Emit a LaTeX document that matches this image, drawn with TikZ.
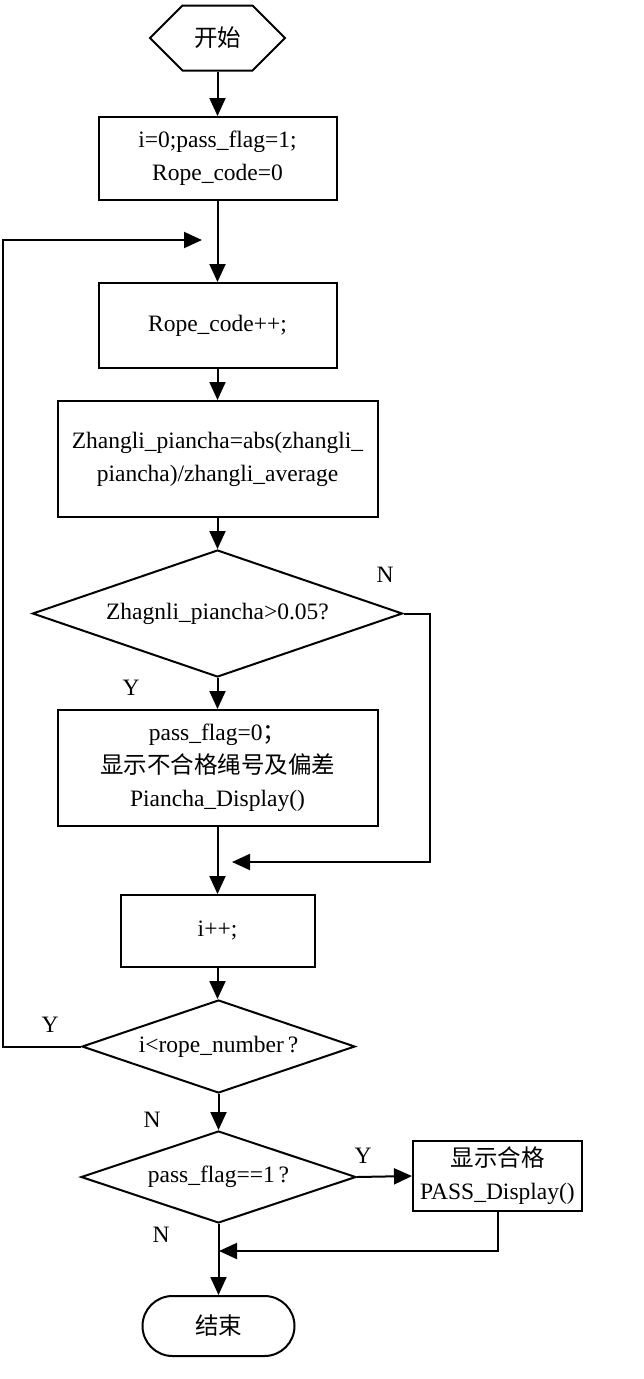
\documentclass[tikz,border=0pt]{standalone}
\usepackage{fontspec}
\setmainfont{Liberation Serif}
\newfontfamily\cjk{Noto Sans CJK SC}
\usepackage{tikz}
\usetikzlibrary{shapes.geometric, shapes.symbols, arrows.meta, positioning}

\begin{document}
\begin{tikzpicture}[
    x=1pt, y=-1pt,
    every node/.style={font=\fontsize{23.5}{33}\selectfont},
    block/.style={rectangle, draw, line width=2pt, align=center, inner sep=0pt},
    decision/.style={diamond, aspect=2.9, draw, line width=2pt, align=center, inner sep=0pt},
    hexa/.style={signal, signal to=west and east, signal pointer angle=90, draw, line width=2pt, minimum width=135pt, minimum height=65pt, inner sep=0pt},
    stopbox/.style={rectangle, rounded corners=30pt, draw, line width=2pt, minimum width=152pt, minimum height=60pt, inner sep=0pt},
    arrow/.style={-{Triangle[length=18pt, width=16pt]}, line width=2pt},
]
    \useasboundingbox (0,0) rectangle (644,1379);

    % Start and init
    \node[hexa] (start) at (217.5,38) {{\cjk 开始}};
    \node[block, minimum width=238pt, minimum height=83pt] (init) at (217.5,158.5) {i=0;pass\_flag=1;\\Rope\_code=0};

    % Loop body
    \node[block, minimum width=238pt, minimum height=85pt] (code) at (217.5,325.5) {Rope\_code++;};
    \node[block, minimum width=320pt, minimum height=116pt] (calc) at (217.5,459) {Zhangli\_piancha=abs(zhangli\_\\piancha)/zhangli\_average};
    \node[decision, minimum width=370pt, minimum height=127pt] (dev) at (217.5,613.5) {Zhagnli\_piancha>0.05?};
    \node[block, minimum width=320pt, minimum height=116pt] (fail) at (217.5,768) {pass\_flag=0{\cjk ；}\\{\cjk 显示不合格绳号及偏差}\\Piancha\_Display()};
    \node[block, minimum width=194pt, minimum height=72pt] (inc) at (217.5,931) {i++;};
    \node[decision, minimum width=273pt, minimum height=93pt] (check) at (218.5,1046.5) {i<rope\_number\,?};

    % Result
    \node[decision, minimum width=275pt, minimum height=92pt] (pass) at (218.5,1177) {pass\_flag==1\,?};
    \node[block, minimum width=169pt, minimum height=70pt] (ok) at (497.5,1176) {{\cjk 显示合格}\\PASS\_Display()};
    \node[stopbox] (stop) at (218.5,1326) {{\cjk 结束}};

    % Join points
    \coordinate (loop) at (202,240);
    \coordinate (join1) at (232,862);
    \coordinate (join2) at (219,1251);

    % Arrows
    \draw[arrow] (start) -- (init);
    \draw[arrow] (init) -- (code);
    \draw[arrow] (code) -- (calc);
    \draw[arrow] (calc) -- (dev);
    \draw[arrow] (dev) -- (fail);
    \draw[arrow] (fail.south) -- (inc.north);
    \draw[arrow] (dev.east) -- ++(26,0) |- (join1);
    \draw[arrow] (inc.south) -- (inc.south |- check.north);
    \draw[arrow] (check.west) -- ++(-78,0) |- (loop);
    \draw[arrow] (check) -- (pass);
    \draw[arrow] (pass.east) -- (ok.west);
    \draw[arrow] (ok.south) |- (join2);
    \draw[arrow] (pass.south) -- (stop.north);

    % Labels
    \node (lbn1) at (385,575) {N};
    \node (lby1) at (131,688) {Y};
    \node (lby2) at (50,1025) {Y};
    \node (lbn2) at (152,1120) {N};
    \node (lby3) at (363,1156) {Y};
    \node (lbn3) at (161,1235) {N};
\end{tikzpicture}
\end{document}
